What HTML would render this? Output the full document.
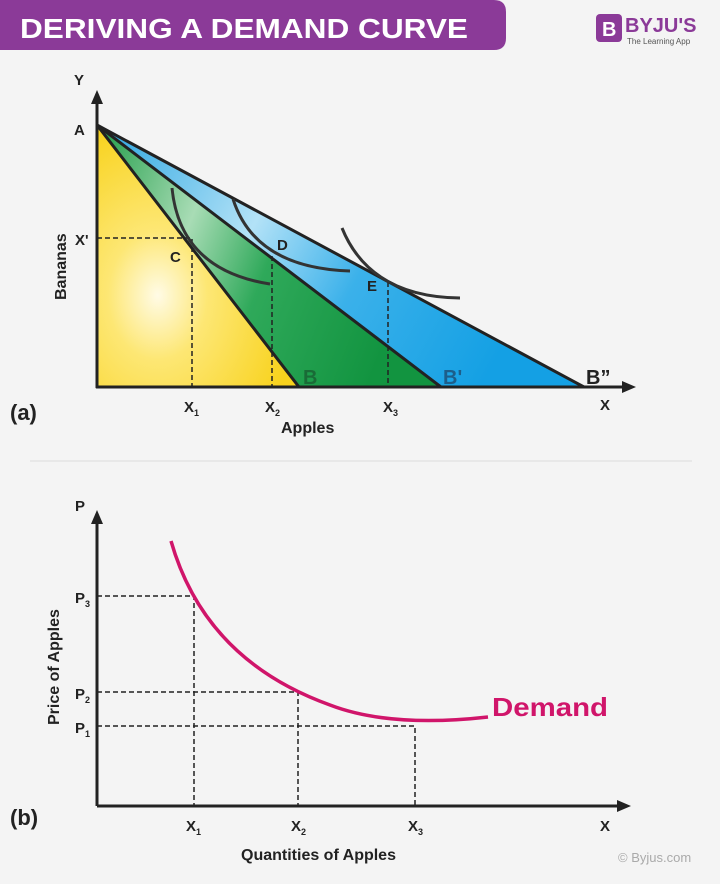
<!DOCTYPE html>
<html><head><meta charset="utf-8"><style>
html,body{margin:0;padding:0;background:#f4f4f4;}
svg{display:block;font-family:"Liberation Sans",Arial,sans-serif;}
</style></head><body>
<svg width="720" height="884" viewBox="0 0 720 884" xmlns="http://www.w3.org/2000/svg">
<defs>
<radialGradient id="gy" cx="0.3" cy="0.65" r="0.7"><stop offset="0" stop-color="#fffbe6"/><stop offset="0.35" stop-color="#fde774"/><stop offset="1" stop-color="#f8d21c"/></radialGradient>
<linearGradient id="gg" x1="0" y1="0" x2="1" y2="0.3"><stop offset="0" stop-color="#1f9c47"/><stop offset="0.35" stop-color="#a8dcb5"/><stop offset="0.6" stop-color="#2fa95a"/><stop offset="1" stop-color="#129440"/></linearGradient>
<linearGradient id="gb" x1="0" y1="0" x2="1" y2="0.3"><stop offset="0" stop-color="#28a4e0"/><stop offset="0.4" stop-color="#b3e2f7"/><stop offset="0.65" stop-color="#3bb1ea"/><stop offset="1" stop-color="#14a0e4"/></linearGradient>
</defs>
<rect width="720" height="884" fill="#f4f4f4"/>
<path d="M0 0 H494 Q506 0 506 12 V38 Q506 50 494 50 H0 Z" fill="#8b3a98"/>
<text x="20" y="38" font-size="28" font-weight="bold" fill="#fff" textLength="448" lengthAdjust="spacingAndGlyphs">DERIVING A DEMAND CURVE</text>
<rect x="596" y="14" width="26" height="28" rx="4" fill="#8b3a98"/>
<text x="602" y="36" font-size="20" font-weight="bold" fill="#fff">B</text>
<text x="625" y="32" font-size="20" font-weight="bold" fill="#8b3a98">BYJU'S</text>
<text x="627" y="44" font-size="8" fill="#555">The Learning App</text>

<polygon points="97,125 584,387 97,387" fill="url(#gb)" stroke="#222" stroke-width="3" stroke-linejoin="round"/>
<polygon points="97,125 441,387 97,387" fill="url(#gg)" stroke="#222" stroke-width="3" stroke-linejoin="round"/>
<polygon points="97,125 299,387 97,387" fill="url(#gy)" stroke="#222" stroke-width="3" stroke-linejoin="round"/>
<g stroke="#222" stroke-width="1.5" stroke-dasharray="5,3" fill="none">
<path d="M97 238 H192 V387"/><path d="M272 256 V387"/><path d="M388 282 V387"/>
</g>
<g stroke="#333" stroke-width="3" fill="none">
<path d="M172 188 Q180 270 270 284"/>
<path d="M233 199 Q255 268 350 271"/>
<path d="M342 228 Q370 297 460 298"/>
</g>
<g stroke="#222" stroke-width="3" fill="#222">
<path d="M97 387 V100" /><path d="M97 387 H625"/>
</g>
<polygon points="97,90 91,104 103,104" fill="#222"/>
<polygon points="636,387 622,381 622,393" fill="#222"/>
<g font-weight="bold" fill="#222" font-size="15">
<text x="74" y="85">Y</text>
<text x="74" y="135">A</text>
<text x="75" y="245">X'</text>
<text x="170" y="262">C</text>
<text x="277" y="250">D</text>
<text x="367" y="291">E</text>
<text x="303" y="384" font-size="20" fill="#1a6b37">B</text>
<text x="443" y="384" font-size="20" fill="#1d5e8a">B'</text>
<text x="586" y="384" font-size="20">B”</text>
<text x="600" y="410">X</text>
<text x="184" y="412">X<tspan font-size="9" dy="4">1</tspan></text>
<text x="265" y="412">X<tspan font-size="9" dy="4">2</tspan></text>
<text x="383" y="412">X<tspan font-size="9" dy="4">3</tspan></text>
<text x="281" y="433" font-size="16">Apples</text>
<text x="10" y="420" font-size="22">(a)</text>
<text transform="translate(66,300) rotate(-90)" font-size="16">Bananas</text>
</g>
<line x1="30" y1="461" x2="692" y2="461" stroke="#ddd" stroke-width="1"/>

<g stroke="#222" stroke-width="1.5" stroke-dasharray="5,3" fill="none">
<path d="M97 596 H194 V806"/><path d="M97 692 H298 V806"/><path d="M97 726 H415 V806"/>
</g>
<path d="M171 541 Q205 660 330 705 Q390 728 488 717" stroke="#d0156a" stroke-width="3.5" fill="none"/>
<g stroke="#222" stroke-width="3">
<path d="M97 806 V522"/><path d="M97 806 H620"/>
</g>
<polygon points="97,510 91,524 103,524" fill="#222"/>
<polygon points="631,806 617,800 617,812" fill="#222"/>
<g font-weight="bold" fill="#222" font-size="15">
<text x="75" y="511">P</text>
<text x="75" y="603">P<tspan font-size="9" dy="4">3</tspan></text>
<text x="75" y="699">P<tspan font-size="9" dy="4">2</tspan></text>
<text x="75" y="733">P<tspan font-size="9" dy="4">1</tspan></text>
<text x="186" y="831">X<tspan font-size="9" dy="4">1</tspan></text>
<text x="291" y="831">X<tspan font-size="9" dy="4">2</tspan></text>
<text x="408" y="831">X<tspan font-size="9" dy="4">3</tspan></text>
<text x="600" y="831">X</text>
<text x="241" y="860" font-size="16">Quantities of Apples</text>
<text x="10" y="825" font-size="22">(b)</text>
<text transform="translate(59,725) rotate(-90)" font-size="16">Price of Apples</text>
<text x="492" y="716" font-size="26" fill="#d0156a" textLength="116" lengthAdjust="spacingAndGlyphs">Demand</text>
</g>
<text x="618" y="862" font-size="13" fill="#aaa">© Byjus.com</text>
</svg>
</body></html>
